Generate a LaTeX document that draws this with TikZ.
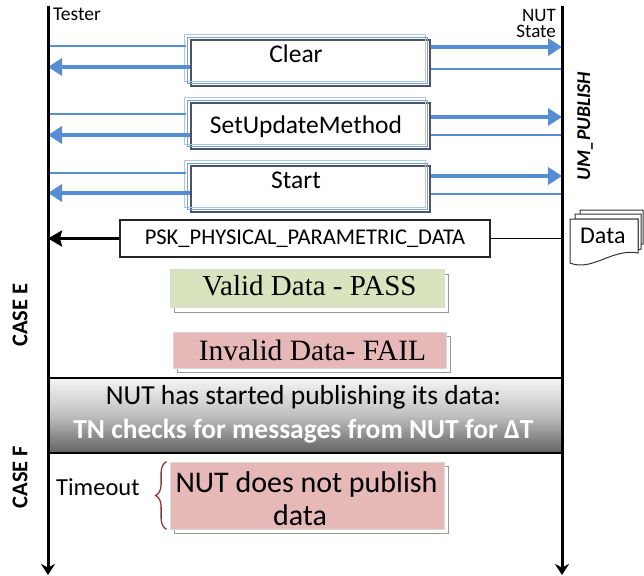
\documentclass[tikz,border=0pt]{standalone}
\usepackage{fontspec}
\setmainfont{Carlito}
\newfontfamily\tnr{Liberation Serif}
\usetikzlibrary{arrows.meta,decorations.pathreplacing,calc}
\definecolor{arrblue}{RGB}{85,142,213}
\definecolor{lightb}{RGB}{170,200,235}
\definecolor{midb}{RGB}{120,160,215}
\definecolor{boxdark}{RGB}{70,85,105}
\definecolor{okgreen}{RGB}{215,228,189}
\definecolor{badpink}{RGB}{230,185,184}
\definecolor{bracered}{RGB}{149,55,53}
\newcommand{\fsz}[1]{\fontsize{#1}{#1}\selectfont}
\tikzset{
  life/.style={line width=3pt, -{Stealth[length=11pt,width=14pt]}},
  thickarr/.style={draw=arrblue, line width=4pt, -{Triangle[length=14pt,width=17pt]}},
  thinb/.style={draw=arrblue, line width=1.2pt},
  msgbox/.style={draw=boxdark, fill=white, line width=1.2pt, minimum width=239pt, minimum height=46pt, inner sep=0pt},
  lbl/.style={inner sep=0pt, anchor=base},
  shadowbox/.style={draw=black!40, fill=white, line width=0.8pt, inner sep=0pt},
  resbox/.style={draw=black!15, line width=0.8pt, inner sep=0pt},
  docpage/.style={draw=black!80, fill=white, line width=1pt},
}
\begin{document}
\begin{tikzpicture}[x=1pt,y=-1pt]
\useasboundingbox (0,0) rectangle (644,575);
% lifeline anchors
\coordinate (TL) at (48,6);
\coordinate (BL) at (48,575);
\coordinate (TR) at (562,6);
\coordinate (BR) at (562,575);

% headers
\node[lbl, anchor=base west, font=\fsz{19.5}] (tester) at (53,21) {Tester};
\node[lbl, anchor=base east, align=right, font=\fontsize{19}{16.5}\selectfont] (nut) at (556,38) {NUT\\State};
\node[rotate=90, inner sep=0pt, font=\bfseries\itshape\fsz{19.5}] (um) at (585,126) {UM\_PUBLISH};

% message boxes
\node[msgbox] (clear) at (310.5,63) {};
\node[msgbox] (setum) at (310.5,126) {};
\node[msgbox] (start) at (310.5,189) {};
\foreach \b in {clear,setum,start}{
  \draw[lightb, line width=1pt] ($(\b.south west)+(-6,-5)$) rectangle ($(\b.north east)+(-5,-5)$);
  \draw[midb, line width=0.8pt] ($(\b.south west)+(-3,-3)$) rectangle ($(\b.north east)+(-3,-2)$);
}
\node[lbl, font=\fsz{25.5}] (cleartxt) at (296,63) {Clear};
\node[lbl, font=\fsz{25.5}] (settxt) at (306,133) {SetUpdateMethod};
\node[lbl, font=\fsz{25.5}] (starttxt) at (296,188) {Start};

\foreach \b/\tl/\kl/\kr/\tr in {clear/-17/4/-16/6, setum/-12/9/-9/9, start/-16/4/-13/5}{
  \path ($(\b.east)+(0,\kr)$) coordinate (p1)
        ($(\b.east)+(0,\tr)$) coordinate (p2)
        ($(\b.west)+(-4,\tl)$) coordinate (p3)
        ($(\b.west)+(0,\kl)$) coordinate (p4);
  \draw[thickarr] (p1) -- (p1 -| TR);
  \draw[thinb] (p2) -- (p2 -| TR);
  \draw[thinb] (p3) -- (p3 -| TL);
  \draw[thickarr] (p4) -- (p4 -| TL);
}

% PSK message
\node[draw=black!85, fill=white, line width=1.2pt, minimum width=370pt, minimum height=37pt, inner sep=0pt, font=\fsz{22.5}] (psk) at (305,238.5) {PSK\_PHYSICAL\_PARAMETRIC\_DATA};
\draw[line width=3pt, -{Stealth[length=14pt,width=16pt,inset=2pt]}] (psk.west) -- (psk.west -| TL);
\draw[line width=1pt] (psk.east) -- (psk.east -| TR);

% Data document stack
\draw[docpage] (580,210) -- (643,210) -- (643,244) .. controls (640,245) .. (638,245) -- (638,216) -- (580,216) -- cycle;
\draw[docpage] (575,214) -- (641,214) -- (641,249) .. controls (640,250) .. (638,250) -- (638,219) -- (575,219) -- cycle;
\draw[docpage] (570,219) -- (638,219) -- (638,253) .. controls (612,248) and (592,272) .. (570,263) -- cycle;
\node[lbl, anchor=base west, font=\fsz{24}] (datatxt) at (580,243) {Data};

% results
\node[shadowbox, minimum width=274pt, minimum height=38pt] (validsh) at (311,293) {};
\node[resbox, fill=okgreen, minimum width=274pt, minimum height=38pt] (valid) at (307,288) {};
\node[lbl, font=\tnr\fsz{29}] (validtxt) at (309.5,295) {Valid Data - PASS};

\node[shadowbox, minimum width=273pt, minimum height=36pt] (invalidsh) at (314,354) {};
\node[resbox, fill=badpink, minimum width=273pt, minimum height=36pt] (invalid) at (310,350.5) {};
\node[lbl, font=\tnr\fsz{29.5}] (invalidtxt) at (312.5,360) {Invalid Data- FAIL};

% case labels
\node[rotate=90, inner sep=0pt, font=\bfseries\fsz{22.5}] (casee) at (20,315) {CASE E};
\node[rotate=90, inner sep=0pt, font=\bfseries\fsz{22.5}] (casef) at (20,477) {CASE F};

% grey band
\node[draw=black, line width=1.5pt, top color=white!96!black, bottom color=black!62, middle color=black!25, minimum width=514pt, minimum height=75pt, inner sep=0pt] (band) at (305,415.5) {};
\node[lbl, font=\fsz{27.5}] (bandtop) at (303.5,404) {NUT has started publishing its data:};
\node[lbl, text=white, font=\bfseries\fsz{27.5}] (bandbot) at (303.5,438) {TN checks for messages from NUT for ΔT};

% timeout
\node[shadowbox, minimum width=274pt, minimum height=67pt] (nopubsh) at (311,499.5) {};
\node[resbox, fill=badpink, minimum width=274pt, minimum height=67pt] (nopub) at (307,495.5) {};
\node[lbl, font=\fsz{30}] (nopub1) at (306.5,492) {NUT does not publish};
\node[lbl, font=\fsz{30}] (nopub2) at (300,525) {data};
\draw[bracered, line width=1.3pt, decorate, decoration={brace, amplitude=11pt}] ($(nopub.south west)+(-3,0)$) -- ($(nopub.north west)+(-3,0)$);
\node[lbl, anchor=base west, font=\fsz{24.5}] (timeout) at (56,495) {Timeout};

% lifelines
\draw[life] (TL) -- (BL);
\draw[life] (TR) -- (BR);
\end{tikzpicture}
\end{document}
